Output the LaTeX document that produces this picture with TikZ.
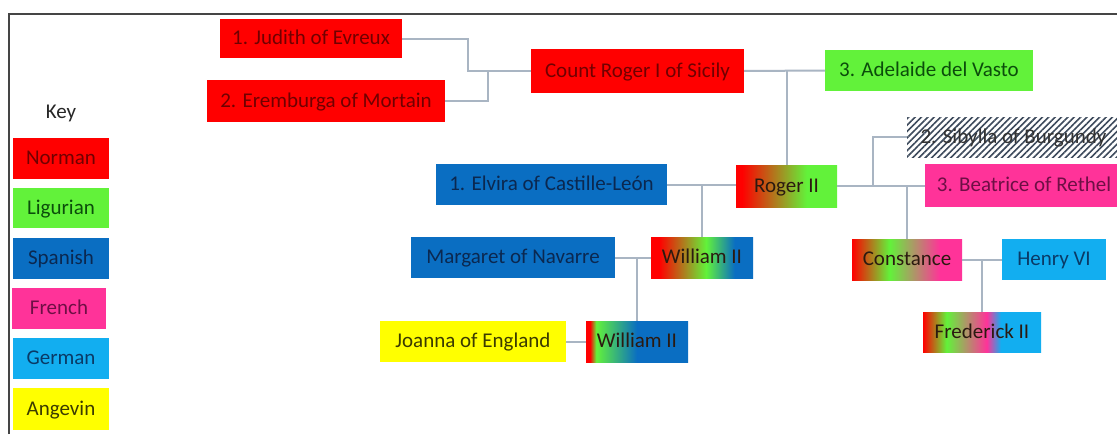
\documentclass[tikz,border=0pt]{standalone}
\usepackage{fontspec}
\setmainfont{Carlito}
\usetikzlibrary{patterns.meta}
\definecolor{norman}{HTML}{FF0000}
\definecolor{ligurian}{HTML}{62F23A}
\definecolor{spanish}{HTML}{0A6EC2}
\definecolor{french}{HTML}{FF3399}
\definecolor{german}{HTML}{12AEF0}
\definecolor{angevin}{HTML}{FFFF00}
\definecolor{normtext}{HTML}{700000}
\definecolor{ligtext}{HTML}{0B4D0B}
\definecolor{spantext}{HTML}{0B2850}
\definecolor{frtext}{HTML}{6E0F45}
\definecolor{gertext}{HTML}{0A3A66}
\definecolor{angtext}{HTML}{3B3B00}
\definecolor{mixtext}{HTML}{2B1A10}
\definecolor{linkc}{HTML}{A9B5C3}
\definecolor{framec}{HTML}{454545}
\definecolor{hatchc}{HTML}{3D4A5C}
\pgfdeclarehorizontalshading{shRogerII}{100bp}{color(0bp)=(norman); color(28bp)=(norman); color(60bp)=(ligurian); color(100bp)=(ligurian)}
\pgfdeclarehorizontalshading{shWilliamI}{100bp}{color(0bp)=(norman); color(29bp)=(norman); color(52bp)=(ligurian); color(66bp)=(spanish); color(100bp)=(spanish)}
\pgfdeclarehorizontalshading{shConstance}{100bp}{color(0bp)=(norman); color(25bp)=(norman); color(42bp)=(ligurian); color(65bp)=(french); color(100bp)=(french)}
\pgfdeclarehorizontalshading{shFrederick}{100bp}{color(0bp)=(norman); color(25bp)=(norman); color(35bp)=(ligurian); color(52bp)=(french); color(58bp)=(german); color(100bp)=(german)}
\pgfdeclarehorizontalshading{shWilliamII}{100bp}{color(0bp)=(norman); color(27bp)=(norman); color(30bp)=(ligurian); color(50bp)=(spanish); color(100bp)=(spanish)}
\tikzset{
  box/.style={rectangle, inner sep=0pt, outer sep=0pt, anchor=center,
    font=\fontsize{21}{24}\selectfont, text height=15pt, text depth=3pt},
  normbox/.style={box, fill=norman, text=normtext},
  ligbox/.style={box, fill=ligurian, text=ligtext},
  spanbox/.style={box, fill=spanish, text=spantext},
  frbox/.style={box, fill=french, text=frtext},
  gerbox/.style={box, fill=german, text=gertext},
  angbox/.style={box, fill=angevin, text=angtext},
  mixbox/.style={box, text=mixtext},
  hatchbox/.style={box, fill=white, text=black!80,
    pattern={Lines[angle=45, distance=4.5pt, line width=1.6pt]}, pattern color=hatchc},
  link/.style={draw=linkc, line width=2pt},
}
\begin{document}
\begin{tikzpicture}[x=1pt, y=-1pt]
\useasboundingbox (0,0) rectangle (1117,434);
\clip (0,0) rectangle (1117,434);
\fill[white] (0,0) rectangle (1117,434);
% frame
\coordinate (fbl) at (9,434);
\coordinate (ftl) at (9,14);
\coordinate (ftr) at (1117,14);
\draw[framec, line width=2.2pt] (fbl) -- (ftl) -- (ftr);

% key
\node[box, text=black!85] (keylbl) at (61,112) {Key};
\node[normbox, minimum width=96, minimum height=41] (knorman) at (61,158.5) {Norman};
\node[ligbox, minimum width=96, minimum height=40] (kligurian) at (61,208) {Ligurian};
\node[spanbox, minimum width=96, minimum height=41] (kspanish) at (61,258.5) {Spanish};
\node[frbox, minimum width=94, minimum height=41] (kfrench) at (59,308.5) {French};
\node[gerbox, minimum width=96, minimum height=41] (kgerman) at (61,358.5) {German};
\node[angbox, minimum width=96, minimum height=42] (kangevin) at (61,409) {Angevin};

% family tree nodes
\node[normbox, minimum width=182, minimum height=39] (judith) at (311,38.5) {1. Judith of Evreux};
\node[normbox, minimum width=238, minimum height=42] (eremburga) at (326,101) {2. Eremburga of Mortain};
\node[normbox, minimum width=213, minimum height=44] (countroger) at (637.5,71) {Count Roger I of Sicily};
\node[ligbox, minimum width=208, minimum height=41] (adelaide) at (929,70.5) {3. Adelaide del Vasto};
\node[hatchbox, minimum width=213, minimum height=40] (sibylla) at (1013.5,137) {2. Sibylla of Burgundy};
\node[frbox, minimum width=198, minimum height=43] (beatrice) at (1024,185.5) {3. Beatrice of Rethel};
\node[mixbox, shading=shRogerII, minimum width=101, minimum height=42] (roger2) at (786.5,186) {Roger II};
\node[spanbox, minimum width=231, minimum height=41] (elvira) at (551.5,184.5) {1. Elvira of Castille-León};
\node[mixbox, shading=shWilliamI, minimum width=102, minimum height=41] (william1) at (702,257.5) {William II};
\node[spanbox, minimum width=204, minimum height=41] (margaret) at (513,257.5) {Margaret of Navarre};
\node[mixbox, shading=shConstance, minimum width=110, minimum height=41] (constance) at (907,259.5) {Constance};
\node[gerbox, minimum width=104, minimum height=41] (henry) at (1054,259.5) {Henry VI};
\node[mixbox, shading=shFrederick, minimum width=118, minimum height=40] (frederick) at (982,332) {Frederick II};
\node[angbox, minimum width=186, minimum height=41] (joanna) at (473,341.5) {Joanna of England};
\node[mixbox, shading=shWilliamII, minimum width=102, minimum height=41] (william2) at (637,341.5) {William II};

% connectors
\coordinate (jfork) at (468,71);
\coordinate (efork) at (488,71);
\coordinate (sibfork) at (873,186);
\draw[link] (judith.east) -| (jfork) -- (countroger.west);
\draw[link] (eremburga.east) -| (efork);
\draw[link] (countroger.east) -- (adelaide.west);
\draw[link] (roger2.north) -- (roger2.north |- countroger.east);
\draw[link] (roger2.east) -- (roger2.east -| beatrice.west);
\draw[link] (sibfork) |- (sibylla.west);
\draw[link] (constance.north) -- (constance.north |- roger2.east);
\draw[link] (elvira.east) -- (elvira.east -| roger2.west);
\draw[link] (william1.north) -- (william1.north |- elvira.east);
\draw[link] (margaret.east) -- (william1.west);
\draw[link] (william2.north) -- (william2.north |- margaret.east);
\draw[link] (joanna.east) -- (william2.west);
\draw[link] (constance.east) -- (henry.west);
\draw[link] (frederick.north) -- (frederick.north |- constance.east);
\end{tikzpicture}
\end{document}
